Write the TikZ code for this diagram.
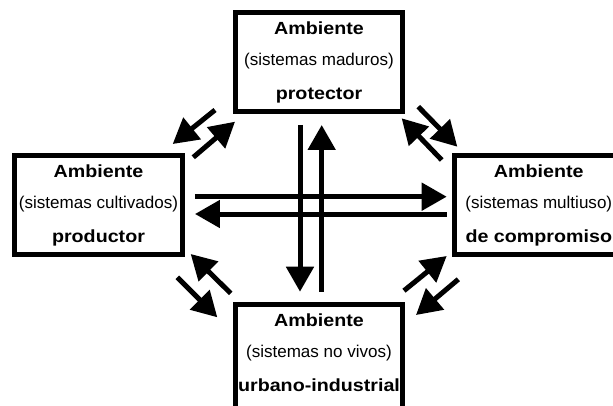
\documentclass[tikz,border=0pt]{standalone}
\usepackage{fontspec}
\setmainfont{Liberation Sans}
\newfontfamily\negrita{Liberation Sans Bold}[FakeStretch=1.12]
\usetikzlibrary{arrows.meta}

\begin{document}
\begin{tikzpicture}[x=0.02cm, y=-0.02cm,
        caja/.style={draw, line width=0.1cm, minimum width=3.36cm, minimum height=1.98cm, inner sep=0pt},
        flecha/.style={line width=0.1cm, -{Triangle[length=0.5cm, width=0.54cm]}},
        titulo/.style={anchor=base, inner sep=0pt, font=\negrita\fontsize{10}{12}\selectfont},
        sistema/.style={anchor=base, inner sep=0pt, font=\fontsize{9.7}{12}\selectfont}]
        \fill[white] (0,0) rectangle (613,406);
        \useasboundingbox (0,0) rectangle (613,406);

        % los cuatro ambientes
        \node[caja] (protector) at (319,62) {};
        \node[caja] (productor) at (98.5,205.3) {};
        \node[caja] (multiuso) at (538.8,205.3) {};
        \node[caja, minimum height=2.08cm] (urbano) at (319,356.8) {};

        \foreach \c/\s/\n in {protector/sistemas maduros/protector, productor/sistemas cultivados/productor,
                multiuso/sistemas multiuso/de compromiso, urbano/sistemas no vivos/urbano-industrial} {
            \node[titulo] (\c-1) at ([shift={(0,24.5)}]\c.north) {Ambiente};
            \node[sistema] (\c-2) at ([shift={(0,55.5)}]\c.north) {(\s)};
            \node[titulo] (\c-3) at ([shift={(0,89)}]\c.north) {\n};
        }

        % flechas centrales
        \draw[flecha] ([shift={(-19,11)}]protector.south) -- ([shift={(-19,-10.6)}]urbano.north);
        \draw[flecha] ([shift={(2.7,-10.6)}]urbano.north) -- ([shift={(2.7,11)}]protector.south);
        \draw[flecha] ([shift={(10,-8.6)}]productor.east) -- ([shift={(-5.6,-8.6)}]multiuso.west);
        \draw[flecha] ([shift={(-5.6,8.7)}]multiuso.west) -- ([shift={(10,8.7)}]productor.east);

        % flechas diagonales
        \draw[flecha] ([shift={(-17.5,-4)}]protector.south west) -- ([shift={(-12.3,-9.3)}]productor.north east);
        \draw[flecha] ([shift={(8.3,4)}]productor.north east) -- ([shift={(2.5,7.7)}]protector.south west);
        \draw[flecha] ([shift={(12.8,-7.3)}]protector.south east) -- ([shift={(5,-6.6)}]multiuso.north west);
        \draw[flecha] ([shift={(-10.6,6.7)}]multiuso.north west) -- ([shift={(-3.8,4.3)}]protector.south east);
        \draw[flecha] ([shift={(-7.7,20)}]productor.south east) -- ([shift={(-15.2,15)}]urbano.north west);
        \draw[flecha] ([shift={(-1.8,-9)}]urbano.north west) -- ([shift={(5.7,-3.3)}]productor.south east);
        \draw[flecha] ([shift={(-1.5,-11.6)}]urbano.north east) -- ([shift={(-5.6,-1.3)}]multiuso.south west);
        \draw[flecha] ([shift={(6,22)}]multiuso.south west) -- ([shift={(10.5,12.7)}]urbano.north east);
\end{tikzpicture}
\end{document}
